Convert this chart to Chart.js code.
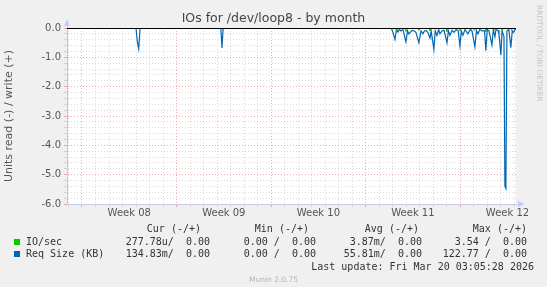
<!DOCTYPE html>
<html>
<head>
<meta charset="utf-8">
<script src="https://cdn.jsdelivr.net/npm/chart.js@4/dist/chart.umd.min.js"></script>
<style>
  body { margin: 0; background: #f0f0f0; }
  #wrap { position: relative; width: 547px; height: 287px; overflow: hidden; font-family: "DejaVu Sans", sans-serif; }
  canvas { position: absolute; left: 0; top: 0; }
  .t { position: absolute; white-space: pre; }
  .mono { font-family: "DejaVu Sans Mono", monospace; font-size: 10px; line-height: 12px; color: #333; }
</style>
</head>
<body>
<div id="wrap">
  <canvas id="myChart" width="547" height="287"></canvas>
  <div class="t" style="left:0;width:547px;top:10px;text-align:center;font-size:12.5px;color:#444">IOs for /dev/loop8 - by month</div>
  <div class="t" style="left:532px;top:5px;transform-origin:0 0;transform:translate(12px,0) rotate(90deg);font-size:7.5px;color:#c4c4c4">RRDTOOL / TOBI OETIKER</div>
  <div id="legend"></div>
  <div class="t" style="left:0;width:547px;top:275px;text-align:center;font-size:7.5px;color:#b4b4b4">Munin 2.0.75</div>
</div>
<script>
// days counted from Mon Feb 16 2026 00:00 (start of Week 08)
const xMin = -1.11, xMax = 32.13;
const weekStarts = [0, 7, 14, 21, 28];
const weekLabels = ["Week 08", "Week 09", "Week 10", "Week 11", "Week 12"];
const yTickValues = [0, -1, -2, -3, -4, -5, -6];

// Req Size (KB), read side (-)
const reqDays = [-1.11, 4.0, 4.09, 4.2, 4.3, 10.28, 10.36, 10.45, 22.9, 23.02, 23.17, 23.28, 23.39, 23.5, 23.61, 23.76,
  23.98, 24.1, 24.2, 24.43, 24.6, 24.72, 24.94, 25.1, 25.24, 25.35, 25.46, 25.6, 25.76, 25.85, 26.05, 26.15,
  26.28, 26.4, 26.5, 26.65, 26.8, 27.02, 27.13, 27.24, 27.4, 27.54, 27.7, 27.85, 27.98, 28.08, 28.2, 28.35,
  28.57, 28.75, 28.87, 29.09, 29.2, 29.31, 29.45, 29.61, 29.8, 29.9, 30.0, 30.13, 30.35, 30.45, 30.57, 30.65,
  30.8, 30.87, 31.01, 31.1, 31.24, 31.31, 31.38, 31.46, 31.6, 31.75, 31.85, 31.95, 32.05, 32.13];
const reqValues = [0, 0, -0.45, -0.71, 0, 0, -0.68, 0, 0, -0.15, -0.39, -0.05, -0.14, -0.05, -0.1, -0.05,
  -0.47, -0.1, -0.2, -0.08, -0.1, -0.15, -0.5, -0.1, -0.2, -0.1, -0.08, -0.15, -0.35, -0.1, -0.73, -0.1,
  -0.25, -0.05, -0.2, -0.1, -0.08, -0.5, -0.1, -0.25, -0.08, -0.15, -0.05, -0.1, -0.61, -0.1, -0.25, -0.05,
  -0.2, -0.05, -0.1, -0.64, -0.08, -0.2, -0.05, -0.1, -0.1, -0.77, -0.05, -0.1, -0.58, -0.05, -0.3, -0.05,
  -0.08, -0.2, -0.92, -0.1, -0.3, -5.4, -5.47, -0.1, -0.05, -0.67, -0.1, -0.15, -0.05, -0.05];

// IO/sec, read side (-)
const ioDays = [-1.11, 23.2, 23.3, 23.4, 23.9, 23.98, 24.1, 24.85, 24.94, 25.05, 25.7, 25.76, 25.85, 26.95, 27.02,
  27.1, 27.9, 27.98, 28.05, 28.95, 29.05, 29.15, 29.85, 29.9, 30.0, 30.55, 30.6, 30.7, 31.05, 31.1, 31.2, 31.75, 31.8, 31.9, 32.13];
const ioValues = [0, 0, -0.1, 0, 0, -0.12, 0, 0, -0.08, 0, 0, -0.1, 0, 0, -0.12,
  0, 0, -0.1, 0, 0, -0.08, 0, 0, -0.12, 0, 0, -0.1, 0, 0, -0.1, 0, 0, -0.08, 0, 0];

// legend table
const legendNames = ["IO/sec", "Req Size (KB)"];
const legendColors = ["#00cc00", "#0066b3"];
const curVals = ["277.78u/  0.00", "134.83m/  0.00"];
const minVals = ["0.00 /  0.00", "0.00 /  0.00"];
const avgVals = ["3.87m/  0.00", "55.81m/  0.00"];
const maxVals = ["3.54 /  0.00", "122.77 /  0.00"];
const lastUpdate = "Last update: Fri Mar 20 03:05:28 2026";

const legend = document.getElementById("legend");
function addText(text, style) {
  const d = document.createElement("div");
  d.className = "t mono";
  d.textContent = text;
  d.setAttribute("style", style);
  legend.appendChild(d);
}
addText("Cur (-/+)", "right:346px;top:223px");
addText("Min (-/+)", "right:238px;top:223px");
addText("Avg (-/+)", "right:128px;top:223px");
addText("Max (-/+)", "right:20px;top:223px");
legendNames.forEach((name, i) => {
  const top = 236 + i * 12.4;
  const sq = document.createElement("div");
  sq.style.cssText = "position:absolute;left:14px;width:6px;height:6px;top:" + (top + 3) + "px;background:" + legendColors[i];
  legend.appendChild(sq);
  addText(name, "left:26px;top:" + top + "px");
  addText(curVals[i], "right:337px;top:" + top + "px");
  addText(minVals[i], "right:231px;top:" + top + "px");
  addText(avgVals[i], "right:125px;top:" + top + "px");
  addText(maxVals[i], "right:20px;top:" + top + "px");
});
addText(lastUpdate, "right:13px;top:261px");

const toPoints = (xs, ys) => xs.map((x, i) => ({ x: x, y: ys[i] }));

const dayTicks = [];
for (let d = Math.ceil(xMin); d <= Math.floor(xMax); d++) dayTicks.push(d);
const labelTicks = weekStarts.map(w => w + 3.5);
const yMinor = [];
for (let i = 0; i <= 30; i++) yMinor.push(Math.round((-6 + i * 0.2) * 10) / 10);

const plotBack = {
  id: "plotBack",
  beforeDraw(chart) {
    const a = chart.chartArea, c = chart.ctx;
    c.save();
    c.fillStyle = "#ffffff";
    c.fillRect(a.left, a.top, a.right - a.left, a.bottom - a.top);
    c.restore();
  },
  afterDatasetsDraw(chart) {
    const a = chart.chartArea, c = chart.ctx;
    const y0 = chart.scales.y.getPixelForValue(0);
    c.save();
    c.strokeStyle = "#000000";
    c.lineWidth = 1;
    c.beginPath();
    c.moveTo(a.left, Math.round(y0) + 0.5);
    c.lineTo(a.right, Math.round(y0) + 0.5);
    c.stroke();
    // axis arrows
    c.fillStyle = "#c4cbf5";
    c.beginPath();
    c.moveTo(a.left, a.top - 9);
    c.lineTo(a.left - 3, a.top - 2);
    c.lineTo(a.left + 3, a.top - 2);
    c.fill();
    c.beginPath();
    c.moveTo(a.right + 9, a.bottom);
    c.lineTo(a.right + 2, a.bottom - 3);
    c.lineTo(a.right + 2, a.bottom + 3);
    c.fill();
    c.strokeStyle = "#c4cbf5";
    c.beginPath();
    c.moveTo(a.right, a.bottom + 0.5);
    c.lineTo(a.right + 3, a.bottom + 0.5);
    c.moveTo(a.left + 0.5, a.top);
    c.lineTo(a.left + 0.5, a.top - 3);
    c.stroke();
    c.restore();
  }
};

const ctx = document.getElementById("myChart");
new Chart(ctx, {
  type: "line",
  data: {
    datasets: [
      {
        label: legendNames[0],
        data: toPoints(ioDays, ioValues),
        borderColor: legendColors[0],
        borderWidth: 1,
        pointRadius: 0,
        tension: 0
      },
      {
        label: legendNames[1],
        data: toPoints(reqDays, reqValues),
        borderColor: legendColors[1],
        borderWidth: 1.2,
        pointRadius: 0,
        tension: 0
      }
    ]
  },
  options: {
    responsive: false,
    animation: false,
    devicePixelRatio: 1,
    layout: { padding: { left: 0, top: 28, right: 31, bottom: 0 } },
    plugins: { legend: { display: false }, tooltip: { enabled: false } },
    scales: {
      x: {
        type: "linear",
        min: xMin,
        max: xMax,
        afterFit: s => { s.height = 83; },
        afterBuildTicks: s => {
          s.ticks = dayTicks.concat(labelTicks).sort((a, b) => a - b).map(v => ({ value: v }));
        },
        ticks: {
          autoSkip: false,
          maxRotation: 0,
          padding: 0,
          color: "#555",
          font: { family: "DejaVu Sans", size: 10 },
          callback: v => {
            const i = labelTicks.indexOf(v);
            return i >= 0 ? weekLabels[i] : "";
          }
        },
        grid: {
          tickLength: 3,
          color: c => {
            const v = c.tick ? c.tick.value : null;
            if (labelTicks.indexOf(v) >= 0) return "rgba(0,0,0,0)";
            if (weekStarts.indexOf(v) >= 0) return "rgba(230,120,120,0.6)";
            return "rgba(175,175,175,0.45)";
          }
        },
        border: { color: "#c4c8e4", dash: [1, 2] }
      },
      y: {
        min: -6,
        max: 0,
        afterFit: s => { s.width = 67; },
        afterBuildTicks: s => {
          s.ticks = yMinor.map(v => ({ value: v }));
        },
        ticks: {
          autoSkip: false,
          padding: 3,
          color: "#555",
          font: { family: "DejaVu Sans", size: 10 },
          callback: v => (yTickValues.indexOf(v) >= 0 ? v.toFixed(1) : "")
        },
        grid: {
          tickLength: 3,
          color: c => {
            const v = c.tick ? c.tick.value : null;
            return yTickValues.indexOf(v) >= 0 ? "rgba(230,120,120,0.6)" : "rgba(175,175,175,0.45)";
          }
        },
        border: { color: "#c4c8e4", dash: [1, 2] },
        title: {
          display: true,
          text: "Units read (-) / write (+)",
          color: "#555",
          font: { family: "DejaVu Sans", size: 11 },
          padding: { top: 3, bottom: 0 }
        }
      }
    }
  },
  plugins: [plotBack]
});
</script>
</body>
</html>
